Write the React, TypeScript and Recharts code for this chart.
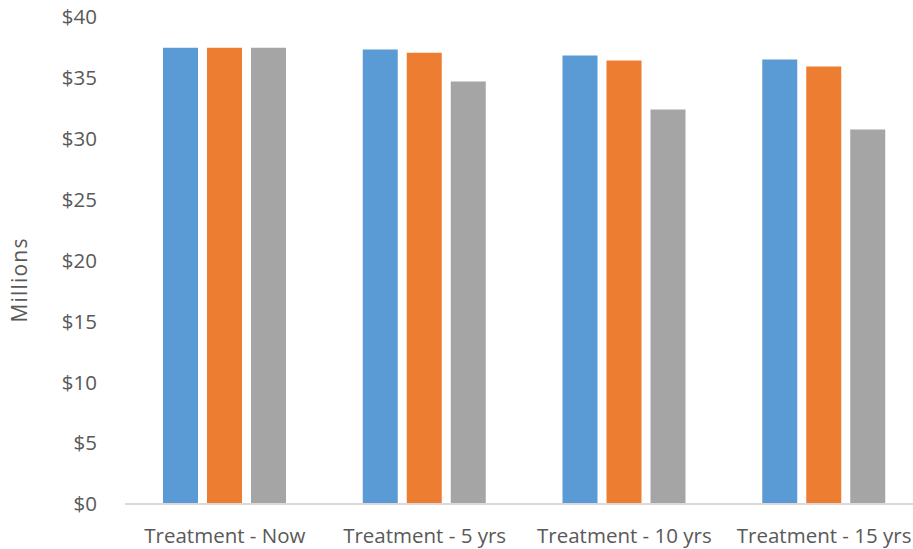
import { Bar, BarChart, XAxis, YAxis } from "recharts"

const categories = ["Treatment - Now", "Treatment - 5 yrs", "Treatment - 10 yrs", "Treatment - 15 yrs"]
const seriesA = [37.47, 37.33, 36.84, 36.51]
const seriesB = [37.47, 37.06, 36.43, 35.93]
const seriesC = [37.47, 34.7, 32.4, 30.76]
const yTicks = [0, 5, 10, 15, 20, 25, 30, 35, 40]

const data = categories.map((name, i) => ({
  name,
  a: seriesA[i],
  b: seriesB[i],
  c: seriesC[i],
}))

const font = "'Open Sans', sans-serif"
const textColor = "#595959"

export default function App() {
  return (
    <div style={{ position: "absolute", left: 0, top: 0, width: 913, height: 549, overflow: "hidden", background: "#fff" }}>
      <BarChart
        width={930}
        height={549}
        data={data}
        margin={{ top: 17, right: 6, bottom: 0, left: 0 }}
        barCategoryGap={38}
        barGap={9}
      >
        <XAxis
          dataKey="name"
          height={45}
          tickLine={false}
          tickSize={0}
          tickMargin={24}
          stroke="#d9d9d9"
          strokeWidth={2}
          tick={{ fill: textColor, fontSize: 20.5, fontFamily: font }}
          interval={0}
        />
        <YAxis
          width={125}
          domain={[0, 40]}
          ticks={yTicks}
          axisLine={false}
          tickLine={false}
          tickSize={0}
          tickMargin={28}
          tick={{ fill: textColor, fontSize: 20.5, fontFamily: font }}
          tickFormatter={(v) => `$${v}`}
          label={() => (
            <text
              x={19}
              y={280}
              transform="rotate(-90 19 280)"
              textAnchor="middle"
              dominantBaseline="central"
              fill={textColor}
              fontSize={21}
              letterSpacing={1.2}
              fontFamily={font}
            >
              Millions
            </text>
          )}
        />
        <Bar dataKey="a" fill="#5b9bd5" isAnimationActive={false} />
        <Bar dataKey="b" fill="#ed7d31" isAnimationActive={false} />
        <Bar dataKey="c" fill="#a5a5a5" isAnimationActive={false} />
      </BarChart>
    </div>
  )
}
